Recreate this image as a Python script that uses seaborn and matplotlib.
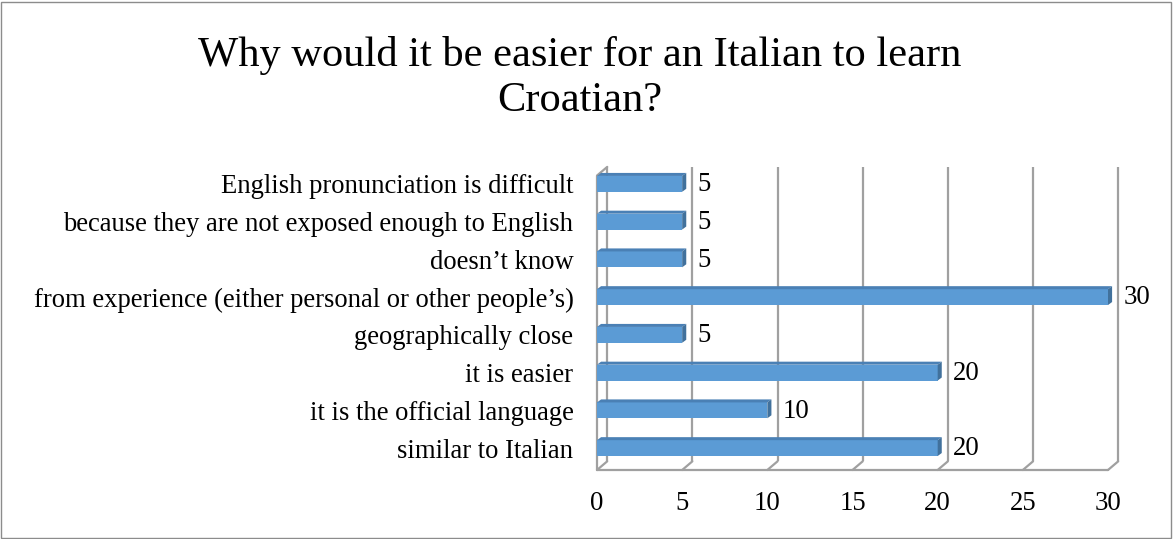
import matplotlib
matplotlib.use("Agg")
import matplotlib.pyplot as plt
from matplotlib.patches import Polygon, Rectangle
import seaborn as sns
import pandas as pd

reasons = [
    "English pronunciation is difficult",
    "because they are not exposed enough to English",
    "doesn\u2019t know",
    "from experience (either personal or other people\u2019s)",
    "geographically close",
    "it is easier",
    "it is the official language",
    "similar to Italian",
]
counts = [5, 5, 5, 30, 5, 20, 10, 20]
x_ticks = [0, 5, 10, 15, 20, 25, 30]

df = pd.DataFrame({"reason": reasons, "count": counts})

sns.set_theme(style="white")
plt.rcParams["font.family"] = ["Liberation Serif", "DejaVu Serif"]
plt.rcParams["text.color"] = "black"
plt.rcParams["xtick.color"] = "black"
plt.rcParams["ytick.color"] = "black"

W, H = 1173, 539
fig = plt.figure(figsize=(W / 100, H / 100), dpi=100)

# outer chart border
fig.patches.append(Rectangle((1 / W, 1 / H), 1 - 3 / W, 1 - 3 / H,
                             transform=fig.transFigure, fill=False,
                             edgecolor="#8c8c8c", linewidth=1.0))

ax = fig.add_axes([597 / W, (H - 470) / H, 511 / W, 305 / H])

grid_c = "#a0a0a0"
bar_c = "#5b9bd5"
side_c = "#41719c"
top_c = "#4a80b5"
lw = 1.6

dx = 0.6    # depth offset along x (data units)
dy = 0.23   # depth offset along y (category units)
y_floor = 7.58
y_top = -0.50

# back wall gridlines and floor diagonals
for v in x_ticks:
    ax.plot([v + dx, v + dx], [y_floor - dy, y_top + 0.05], color=grid_c, lw=lw,
            zorder=1, solid_capstyle="butt", clip_on=False)
    ax.plot([v, v + dx], [y_floor, y_floor - dy], color=grid_c, lw=lw, zorder=1,
            clip_on=False)
# front floor edge
ax.plot([0, 30], [y_floor, y_floor], color=grid_c, lw=lw, zorder=1, clip_on=False)
# left side wall front edge and top
ax.plot([0, 0], [y_floor, y_top + 0.05 + dy], color=grid_c, lw=lw, zorder=1,
        clip_on=False)
ax.plot([0, dx], [y_top + 0.05 + dy, y_top + 0.05], color=grid_c, lw=lw, zorder=1,
        clip_on=False)

bh = 0.42
sns.barplot(data=df, x="count", y="reason", orient="h", color=bar_c,
            saturation=1, width=bh, ax=ax, zorder=3, linewidth=0)
for p in ax.patches:
    p.set_clip_on(False)

# 3D caps: top face and right end face for each bar
cdx, cdy = 0.24, 0.08
for i, v in enumerate(counts):
    top = i - bh / 2
    bot = i + bh / 2
    ax.add_patch(Polygon([(0, top), (v, top), (v + cdx, top - cdy), (cdx, top - cdy)],
                         closed=True, facecolor=top_c, edgecolor="none", zorder=3,
                         clip_on=False))
    ax.add_patch(Polygon([(v, top), (v + cdx, top - cdy), (v + cdx, bot - cdy), (v, bot)],
                         closed=True, facecolor=side_c, edgecolor="none", zorder=4,
                         clip_on=False))
    ax.text(v + 0.92, i + 0.02, str(v), ha="left", va="center", fontsize=19.3,
            color="black", zorder=5, clip_on=False)

ax.set_xlim(0, 30)
ax.set_ylim(y_floor, y_top)
ax.set_xticks(x_ticks)
ax.set_xticklabels([str(t) for t in x_ticks], fontsize=19.3)
ax.set_yticks(range(len(reasons)))
ax.set_yticklabels(reasons, fontsize=19.2)
ax.tick_params(axis="y", length=0, pad=17)
ax.tick_params(axis="x", length=0, pad=15)
ax.set_xlabel("")
ax.set_ylabel("")
for s in ax.spines.values():
    s.set_visible(False)
ax.patch.set_alpha(0)
ax.grid(False)

fig.text(580 / W, 1 - 78 / H,
         "Why would it be easier for an Italian to learn\nCroatian?",
         ha="center", va="center", fontsize=30.6, linespacing=1.2)

fig.savefig("out.png", dpi=100, facecolor="white")
